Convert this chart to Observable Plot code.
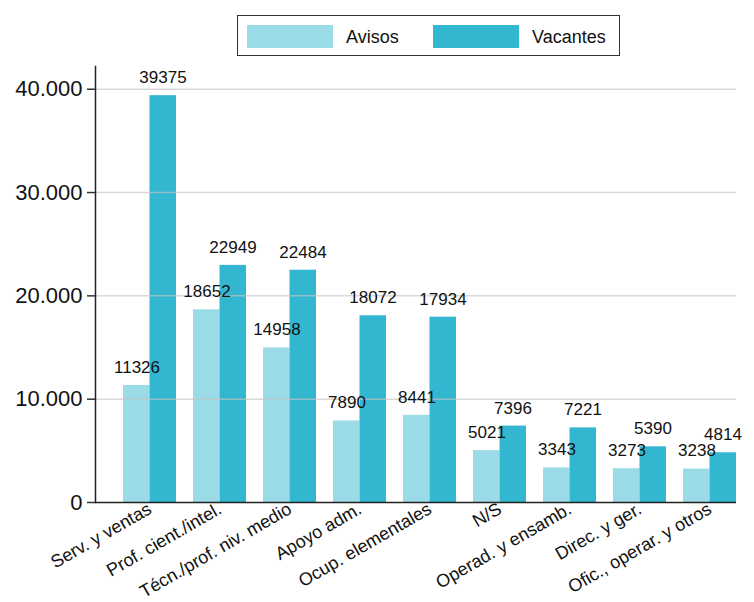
<!DOCTYPE html>
<html>
<head>
<meta charset="utf-8">
<script src="https://cdn.jsdelivr.net/npm/d3@7"></script>
<script src="https://cdn.jsdelivr.net/npm/@observablehq/plot@0.6"></script>
<style>
  html, body { margin: 0; padding: 0; background: #fff; }
  #wrap { position: relative; width: 754px; height: 602px; font-family: "Liberation Sans", Arial, sans-serif; }
  #legend { position: absolute; left: 237px; top: 15px; width: 383px; height: 41px; border: 1.5px solid #333; box-sizing: border-box; }
  .sw { position: absolute; top: 9px; width: 86px; height: 23px; }
  .lb { position: absolute; top: 9px; font-size: 18px; color: #111; line-height: 24px; }
  #chart { position: absolute; left: 0; top: 0; }
</style>
</head>
<body>
<div id="wrap">
  <div id="chart"></div>
  <div id="legend">
    <div class="sw" style="left:9px;background:#9adbe7"></div>
    <div class="lb" style="left:108px">Avisos</div>
    <div class="sw" style="left:195px;background:#33b6cf"></div>
    <div class="lb" style="left:294px">Vacantes</div>
  </div>
</div>
<script>
const categories = ["Serv. y ventas","Prof. cient./intel.","Técn./prof. niv. medio","Apoyo adm.","Ocup. elementales","N/S","Operad. y ensamb.","Direc. y ger.","Ofic., operar. y otros"];
const avisos = [11326,18652,14958,7890,8441,5021,3343,3273,3238];
const vacantes = [39375,22949,22484,18072,17934,7396,7221,5390,4814];
const yTicks = [0,10000,20000,30000,40000];

const dAv = categories.map((c, i) => ({cat: c, value: avisos[i]}));
const dVa = categories.map((c, i) => ({cat: c, value: vacantes[i]}));
const fmt = d3.formatLocale({thousands: ".", grouping: [3], decimal: ","}).format(",d");

const half = 26.5;
const chart = Plot.plot({
  width: 754,
  height: 602,
  marginLeft: 95,
  marginRight: 18,
  marginTop: 66,
  marginBottom: 100,
  style: {fontFamily: "Liberation Sans, Arial, sans-serif", background: "transparent"},
  x: {domain: categories, paddingInner: 0.243, paddingOuter: 0.2, align: 1, label: null},
  y: {domain: [0, 42200], label: null},
  marks: [
    Plot.barY(dAv, {x: "cat", y: "value", fill: "#9adbe7", insetRight: half}),
    Plot.barY(dVa, {x: "cat", y: "value", fill: "#33b6cf", insetLeft: half}),
    Plot.ruleY(yTicks.slice(1), {stroke: "#c4c4c4", strokeOpacity: 0.65, strokeWidth: 1.5}),
    Plot.text(dAv, {x: "cat", y: "value", text: d => String(d.value), dx: -13, dy: -18, fontSize: 17, fill: "#111"}),
    Plot.text(dVa, {x: "cat", y: "value", text: d => String(d.value), dx: 13, dy: -18, fontSize: 17, fill: "#111"}),
    Plot.axisY({ticks: yTicks, tickFormat: fmt, tickSize: 8, tickPadding: 5, fontSize: 22, stroke: "#333", strokeWidth: 1.5, color: "#111", label: null}),
    Plot.axisX({tickRotate: -30, tickSize: 0, tickPadding: 5, fontSize: 18, fill: "#111", label: null}),
    Plot.frame({anchor: "left", stroke: "#222", strokeWidth: 1.5}),
    Plot.ruleY([0], {stroke: "#222", strokeWidth: 1.5})
  ]
});
document.getElementById("chart").appendChild(chart);
</script>
</body>
</html>
